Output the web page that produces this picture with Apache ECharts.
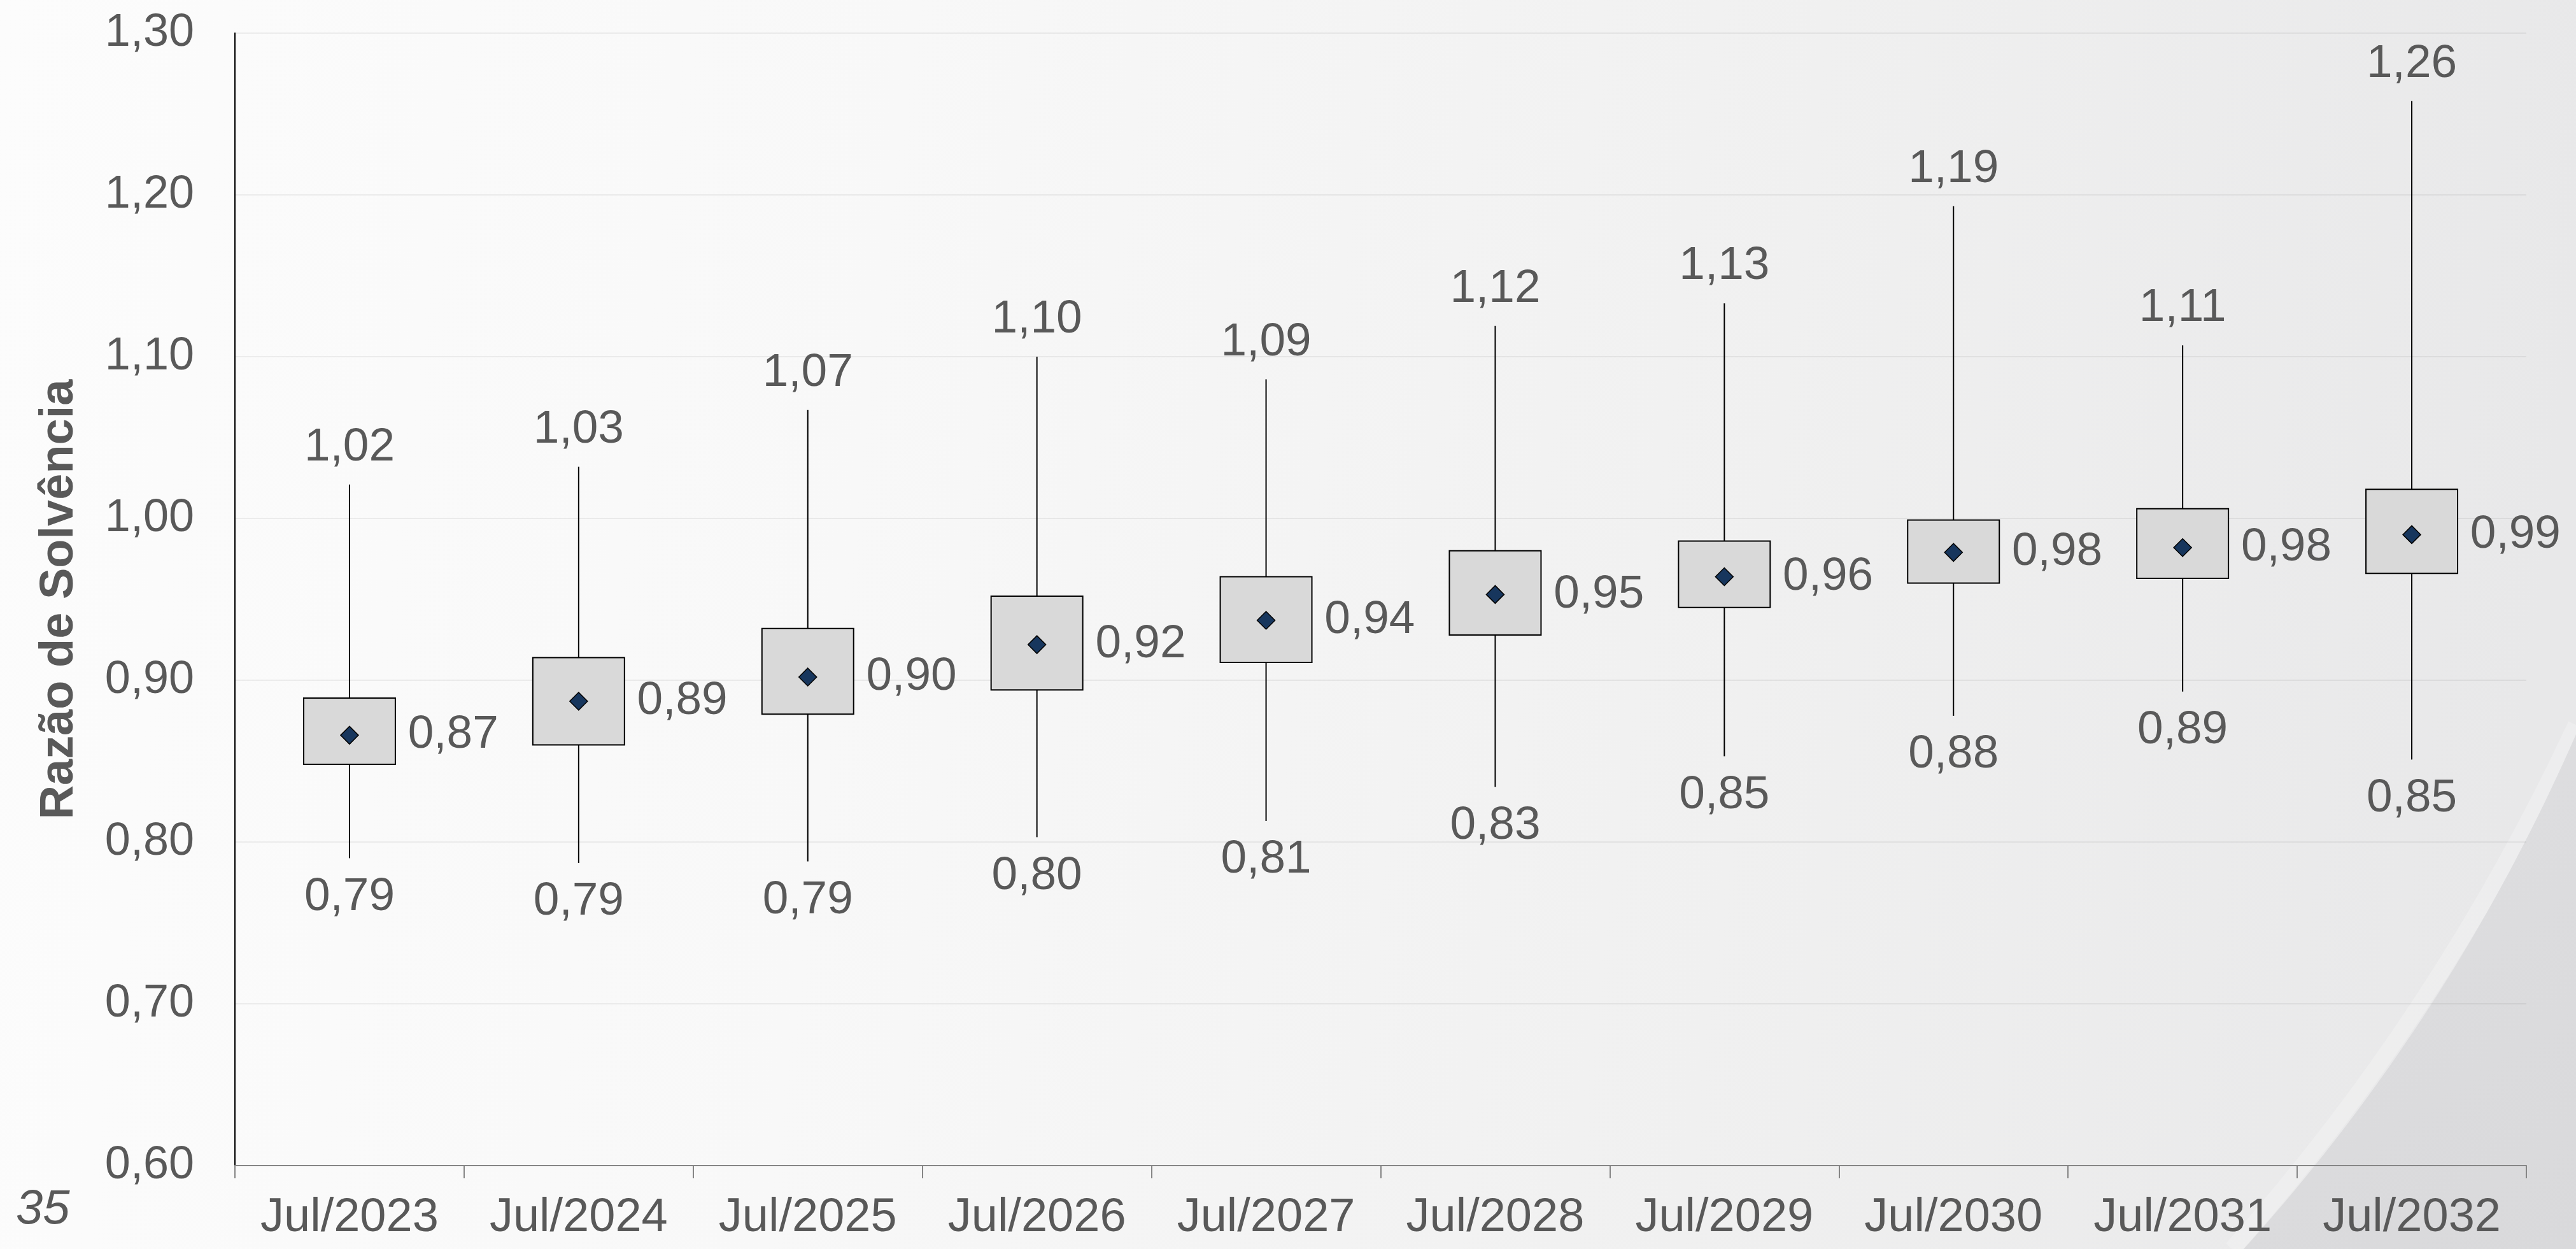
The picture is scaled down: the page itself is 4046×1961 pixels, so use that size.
<!DOCTYPE html>
<html>
<head>
<meta charset="utf-8">
<script src="https://cdn.jsdelivr.net/npm/echarts@6/dist/echarts.min.js"></script>
<style>
  html, body { margin: 0; padding: 0; background: #fafafa; }
  #chart { width: 4046px; height: 1961px; }
</style>
</head>
<body>
<div id="chart"></div>
<script>
// ---- data ----
var categories = ['Jul/2023', 'Jul/2024', 'Jul/2025', 'Jul/2026', 'Jul/2027', 'Jul/2028', 'Jul/2029', 'Jul/2030', 'Jul/2031', 'Jul/2032'];
var minVals  = [0.790, 0.787, 0.788, 0.803, 0.813, 0.834, 0.853, 0.878, 0.893, 0.851];
var q1Vals   = [0.848, 0.860, 0.879, 0.894, 0.911, 0.928, 0.945, 0.960, 0.963, 0.966];
var q3Vals   = [0.889, 0.914, 0.932, 0.952, 0.964, 0.980, 0.986, 0.999, 1.006, 1.018];
var maxVals  = [1.021, 1.032, 1.067, 1.100, 1.086, 1.119, 1.133, 1.193, 1.107, 1.258];
var meanVals = [0.866, 0.887, 0.902, 0.922, 0.937, 0.953, 0.964, 0.979, 0.982, 0.990];
var yAxisTitle = 'Razão de Solvência';
var pageNumber = '35';
var yMin = 0.6, yMax = 1.3, yStep = 0.1;

function fmt(v) { return v.toFixed(2).replace('.', ','); }

var boxData = categories.map(function (c, i) {
  return [i, minVals[i], q1Vals[i], q3Vals[i], maxVals[i]];
});

// decorative background corner (quadratic curve sampled into a polygon)
function quadPts(p0, c, p2, n) {
  var pts = [];
  for (var k = 0; k <= n; k++) {
    var t = k / n, u = 1 - t;
    pts.push([u * u * p0[0] + 2 * u * t * c[0] + t * t * p2[0], u * u * p0[1] + 2 * u * t * c[1] + t * t * p2[1]]);
  }
  return pts;
}
var cornerPts = quadPts([3524, 1961], [3850, 1600], [4046, 1153], 40);
cornerPts.push([4046, 1961]);

var FONT = "'Liberation Sans', Arial, sans-serif";
var TXT = '#595959';

var chart = echarts.init(document.getElementById('chart'), null, { renderer: 'canvas' });

chart.setOption({
  animation: false,
  backgroundColor: 'transparent',
  graphic: [
    {
      type: 'rect', z: -10, silent: true,
      shape: { x: 0, y: 0, width: 4046, height: 1961 },
      style: {
        fill: new echarts.graphic.LinearGradient(0, 0, 1, 0.25, [
          { offset: 0, color: '#fcfcfc' },
          { offset: 0.35, color: '#f8f8f8' },
          { offset: 0.7, color: '#f0f0f0' },
          { offset: 1, color: '#e8e8e9' }
        ])
      }
    },
    {
      type: 'bezierCurve', z: -9, silent: true,
      shape: { x1: 3506, y1: 1961, cpx1: 3834, cpy1: 1592, x2: 4046, y2: 1138 },
      style: { fill: null, stroke: 'rgba(255,255,255,0.22)', lineWidth: 26 }
    },
    {
      type: 'polygon', z: -8, silent: true,
      shape: { points: cornerPts },
      style: {
        fill: new echarts.graphic.LinearGradient(0, 0, 1, 1, [
          { offset: 0, color: '#dfdfe1' },
          { offset: 1, color: '#d9d9db' }
        ])
      }
    },
    {
      type: 'text', left: 25, top: 1862,
      style: { text: pageNumber, font: 'italic 76px ' + FONT, fill: TXT }
    }
  ],
  grid: { left: 369, right: 78, top: 52, bottom: 131, containLabel: false },
  xAxis: {
    type: 'category',
    data: categories,
    boundaryGap: true,
    axisLine: { show: true, lineStyle: { color: '#868686', width: 2 } },
    axisTick: { show: true, interval: 0, length: 20, lineStyle: { color: '#868686', width: 2 } },
    axisLabel: { interval: 0, color: TXT, fontSize: 74, fontFamily: FONT, margin: 46 },
    splitLine: { show: false }
  },
  yAxis: {
    type: 'value',
    min: yMin, max: yMax, interval: yStep,
    name: yAxisTitle,
    nameLocation: 'middle',
    nameGap: 238,
    nameTextStyle: { color: TXT, fontSize: 74, fontWeight: 'bold', fontFamily: FONT },
    axisLine: { show: true, lineStyle: { color: '#000', width: 2 } },
    axisTick: { show: false },
    axisLabel: { color: TXT, fontSize: 72, fontFamily: FONT, margin: 64, formatter: function (v) { return fmt(v); } },
    splitLine: { show: true, lineStyle: { color: 'rgba(0,0,0,0.06)', width: 2 } }
  },
  series: [
    {
      type: 'custom',
      name: 'box',
      data: boxData,
      encode: { x: 0, y: [1, 2, 3, 4] },
      z: 2,
      renderItem: function (params, api) {
        var x = api.value(0);
        var pMin = api.coord([x, api.value(1)]);
        var pQ1 = api.coord([x, api.value(2)]);
        var pQ3 = api.coord([x, api.value(3)]);
        var pMax = api.coord([x, api.value(4)]);
        var w = api.size([1, 0])[0] * 0.4;
        return {
          type: 'group',
          children: [
            { type: 'line', shape: { x1: pMin[0], y1: pMin[1], x2: pQ1[0], y2: pQ1[1] }, style: { stroke: '#000', lineWidth: 2 } },
            { type: 'line', shape: { x1: pQ3[0], y1: pQ3[1], x2: pMax[0], y2: pMax[1] }, style: { stroke: '#000', lineWidth: 2 } },
            { type: 'rect', shape: { x: pQ3[0] - w / 2, y: pQ3[1], width: w, height: pQ1[1] - pQ3[1] }, style: { fill: '#d9d9d9', stroke: '#000', lineWidth: 2 } }
          ]
        };
      }
    },
    {
      type: 'scatter',
      name: 'mean',
      data: meanVals,
      symbol: 'diamond',
      symbolSize: [28, 28],
      z: 5,
      itemStyle: { color: '#17365d', borderColor: '#000', borderWidth: 1.5, opacity: 1 },
      label: {
        show: true, position: 'right', distance: 77,
        color: TXT, fontSize: 73, fontFamily: FONT,
        formatter: function (p) { return fmt(p.value); }
      }
    },
    {
      type: 'scatter',
      name: 'max',
      data: maxVals,
      symbolSize: 1,
      z: 4,
      itemStyle: { color: 'rgba(0,0,0,0)', opacity: 1 },
      label: {
        show: true, position: 'top', distance: 21,
        color: TXT, fontSize: 73, fontFamily: FONT,
        formatter: function (p) { return fmt(p.value); }
      }
    },
    {
      type: 'scatter',
      name: 'min',
      data: minVals,
      symbolSize: 1,
      z: 4,
      itemStyle: { color: 'rgba(0,0,0,0)', opacity: 1 },
      label: {
        show: true, position: 'bottom', distance: 24,
        color: TXT, fontSize: 73, fontFamily: FONT,
        formatter: function (p) { return fmt(p.value); }
      }
    }
  ]
});
</script>
</body>
</html>
